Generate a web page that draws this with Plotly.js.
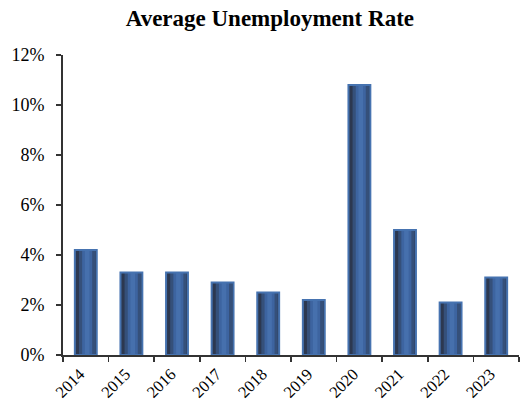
<!DOCTYPE html>
<html>
<head>
<meta charset="utf-8">
<script src="https://cdn.plot.ly/plotly-3.0.1.min.js"></script>
<style>
  html, body { margin: 0; padding: 0; background: #fff; }
  #chart { width: 521px; height: 404px; }
</style>
</head>
<body>
<div id="chart"></div>
<script>
// Average annual unemployment rate, percent
const years = ['2014', '2015', '2016', '2017', '2018', '2019', '2020', '2021', '2022', '2023'];
const rates = [4.2, 3.3, 3.3, 2.9, 2.5, 2.2, 10.8, 5.0, 2.1, 3.1];

const serif = '"Liberation Serif", "Times New Roman", Times, serif';
const barW = 0.48;

// Cylinder-like shading: dark base, lighter bands, then an outline on top
function layer(width, offset, color, line) {
  return {
    type: 'bar',
    x: years,
    y: rates,
    width: width,
    offset: offset,
    marker: { color: color, line: line || { width: 0 } },
    hoverinfo: 'skip',
    showlegend: false
  };
}

const traces = [
  layer(barW, -barW / 2, '#2c3850'),
  layer(0.36, -0.15, '#35507a'),
  layer(0.22, -0.08, '#3d64a0'),
  layer(0.10, -0.02, '#4670ad'),
  layer(barW, -barW / 2, 'rgba(0,0,0,0)', { color: '#4673b0', width: 2 })
];

const layout = {
  width: 521,
  height: 404,
  margin: { l: 63, r: 2, t: 55, b: 49 },
  paper_bgcolor: '#ffffff',
  plot_bgcolor: '#ffffff',
  barmode: 'overlay',
  title: {
    text: '<b>Average Unemployment Rate</b>',
    font: { family: serif, size: 23, color: '#000' },
    x: 0.518, xref: 'container', xanchor: 'center',
    y: 0.955, yref: 'container', yanchor: 'middle'
  },
  xaxis: {
    type: 'category',
    showgrid: false,
    showline: true, linecolor: '#333', linewidth: 2,
    ticks: 'outside', tickson: 'boundaries', ticklen: 5, tickcolor: '#333', tickwidth: 1.5,
    tickangle: -45,
    ticklabelshift: -6,
    ticklabelstandoff: 1,
    tickfont: { family: serif, size: 16.5, color: '#000' },
    zeroline: false
  },
  yaxis: {
    range: [0, 12],
    dtick: 2,
    ticksuffix: '%',
    showgrid: false,
    showline: true, linecolor: '#333', linewidth: 2,
    ticks: 'outside', ticklen: 5, tickcolor: '#333', tickwidth: 1.5,
    ticklabelstandoff: 8,
    tickfont: { family: serif, size: 18, color: '#000' },
    zeroline: false
  }
};

Plotly.newPlot('chart', traces, layout, { displayModeBar: false, staticPlot: true });
</script>
</body>
</html>
